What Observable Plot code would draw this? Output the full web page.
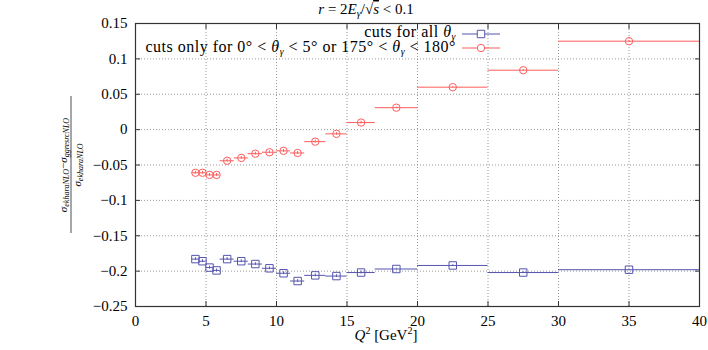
<!DOCTYPE html>
<html>
<head>
<meta charset="utf-8">
<script src="https://cdn.jsdelivr.net/npm/d3@7"></script>
<script src="https://cdn.jsdelivr.net/npm/@observablehq/plot@0.6"></script>
<style>
  html, body { margin: 0; padding: 0; background: #fff; }
  #chart svg { display: block; }
  #chart svg text { font-family: 'Liberation Serif', 'DejaVu Serif', serif; }
</style>
</head>
<body>
<div id="chart"></div>
<script>
// Q^2 bin centres, bin edges [GeV^2]
const q2     = [4.25, 4.75, 5.25, 5.75, 6.5, 7.5, 8.5, 9.5, 10.5, 11.5, 12.75, 14.25, 16, 18.5, 22.5, 27.5, 35];
const binLo  = [4, 4.5, 5, 5.5, 6, 7, 8, 9, 10, 11, 12, 13.5, 15, 17, 20, 25, 30];
const binHi  = [4.5, 5, 5.5, 6, 7, 8, 9, 10, 11, 12, 13.5, 15, 17, 20, 25, 30, 40];
// relative difference, cuts for all theta_gamma
const allCuts = [-0.183, -0.186, -0.195, -0.199, -0.183, -0.186, -0.190, -0.196, -0.203, -0.214, -0.206, -0.207, -0.202, -0.197, -0.192, -0.202, -0.198];
// relative difference, cuts only for forward/backward photons
const partCuts = [-0.061, -0.061, -0.064, -0.064, -0.044, -0.040, -0.034, -0.032, -0.030, -0.033, -0.017, -0.006, 0.010, 0.031, 0.060, 0.084, 0.125];
// (tiny) statistical errors
const allErr  = [0.002, 0.002, 0.002, 0.002, 0.002, 0.002, 0.002, 0.002, 0.002, 0.002, 0.002, 0.002, 0.002, 0.001, 0.001, 0.001, 0.001];
const partErr = [0.002, 0.002, 0.002, 0.002, 0.002, 0.002, 0.002, 0.002, 0.002, 0.002, 0.002, 0.002, 0.002, 0.001, 0.001, 0.001, 0.001];

const xTicks = [0, 5, 10, 15, 20, 25, 30, 35, 40];
const yTicks = [-0.25, -0.2, -0.15, -0.1, -0.05, 0, 0.05, 0.1, 0.15];

const seriesNames = ["cuts for all θγ", "cuts only for 0° < θγ < 5° or 175° < θγ < 180°"];
const blue = "#5555b0";
const red = "#ff5c5c";

const rows = (vals, errs, s) => q2.map((q, i) => ({q, lo: binLo[i], hi: binHi[i], v: vals[i], e: errs[i], s}));
const dAll = rows(allCuts, allErr, seriesNames[0]);
const dPart = rows(partCuts, partErr, seriesNames[1]);

const font = "'Liberation Serif', 'DejaVu Serif', serif";
const fmt = d3.format("~g");
const none = () => "";

const plot = Plot.plot({
  width: 708,
  height: 350,
  marginLeft: 135,
  marginRight: 9,
  marginTop: 23,
  marginBottom: 44,
  style: {fontFamily: font, fontSize: "15px", background: "#fff", color: "#000"},
  x: {domain: [0, 40]},
  y: {domain: [-0.25, 0.15]},
  marks: [
    Plot.gridX(xTicks, {stroke: "#999", strokeOpacity: 1, strokeDasharray: "1,2"}),
    Plot.gridY(yTicks, {stroke: "#999", strokeOpacity: 1, strokeDasharray: "1,2"}),
    Plot.axisX(xTicks, {anchor: "bottom", tickSize: 0, tickPadding: 9, tickFormat: fmt, label: null, fontSize: 15, fontFamily: font}),
    Plot.axisX(xTicks, {anchor: "bottom", tickSize: -5, tickFormat: none, label: null, stroke: "#333"}),
    Plot.axisX(xTicks, {anchor: "top", tickSize: -5, tickFormat: none, label: null, stroke: "#333"}),
    Plot.axisY(yTicks, {anchor: "left", tickSize: 0, tickPadding: 8, tickFormat: fmt, label: null, fontSize: 15, fontFamily: font}),
    Plot.axisY(yTicks, {anchor: "left", tickSize: -5, tickFormat: none, label: null, stroke: "#333"}),
    Plot.axisY(yTicks, {anchor: "right", tickSize: -5, tickFormat: none, label: null, stroke: "#333"}),
    // horizontal bin-width bars
    Plot.ruleY(dAll, {y: "v", x1: "lo", x2: "hi", stroke: blue, strokeWidth: 1}),
    Plot.ruleY(dPart, {y: "v", x1: "lo", x2: "hi", stroke: red, strokeWidth: 1}),
    // vertical error bars
    Plot.ruleX(dAll, {x: "q", y1: d => d.v - d.e, y2: d => d.v + d.e, stroke: blue}),
    Plot.ruleX(dPart, {x: "q", y1: d => d.v - d.e, y2: d => d.v + d.e, stroke: red}),
    Plot.dot(dAll, {x: "q", y: "v", symbol: "square", r: 4.2, stroke: blue, fill: "none", strokeWidth: 1}),
    Plot.dot(dPart, {x: "q", y: "v", symbol: "circle", r: 3.7, stroke: red, fill: "none", strokeWidth: 1}),
    Plot.frame({stroke: "#333", strokeWidth: 1.2})
  ]
});

document.getElementById("chart").appendChild(plot);

const svg = d3.select(plot);
svg.selectAll("text").style("font-family", font);

// Title
const title = svg.append("text")
  .attr("x", 366).attr("y", 14)
  .attr("text-anchor", "middle")
  .style("font-family", font).style("font-size", "15px");
title.append("tspan").attr("font-style", "italic").text("r");
title.append("tspan").text(" = 2");
title.append("tspan").attr("font-style", "italic").text("E");
title.append("tspan").attr("font-style", "italic").attr("font-size", "10px").attr("dy", 3).text("γ");
title.append("tspan").attr("dy", -3).text("/√");
title.append("tspan").attr("font-style", "italic").style("text-decoration", "overline").text("s");
title.append("tspan").text(" < 0.1");

// X label
const xl = svg.append("text")
  .attr("x", 386).attr("y", 340)
  .attr("text-anchor", "middle")
  .style("font-family", font).style("font-size", "15px");
xl.append("tspan").attr("font-style", "italic").text("Q");
xl.append("tspan").attr("font-size", "10px").attr("dy", -6).text("2");
xl.append("tspan").attr("dy", 6).text(" [GeV");
xl.append("tspan").attr("font-size", "10px").attr("dy", -6).text("2");
xl.append("tspan").attr("dy", 6).text("]");

// Y label (fraction)
const yg = svg.append("g").attr("transform", "translate(71,165) rotate(-90)")
  .style("font-family", font);
const num = yg.append("text").attr("x", 0).attr("y", -4).attr("text-anchor", "middle").style("font-size", "11px");
num.append("tspan").attr("font-style", "italic").text("σ");
num.append("tspan").attr("font-style", "italic").attr("font-size", "8px").attr("dy", 2).text("ekharaNLO");
num.append("tspan").attr("dy", -2).text("−");
num.append("tspan").attr("font-style", "italic").text("σ");
num.append("tspan").attr("font-style", "italic").attr("font-size", "8px").attr("dy", 2).text("ggresrcNLO");
yg.append("line").attr("x1", -68).attr("x2", 69).attr("y1", 0).attr("y2", 0).attr("stroke", "#000").attr("stroke-width", 0.7);
const den = yg.append("text").attr("x", 0).attr("y", 10).attr("text-anchor", "middle").style("font-size", "11px");
den.append("tspan").attr("font-style", "italic").text("σ");
den.append("tspan").attr("font-style", "italic").attr("font-size", "8px").attr("dy", 2).text("ekharaNLO");

// Legend
const leg = svg.append("g").style("font-family", font).style("font-size", "16px").style("letter-spacing", "0.5px");
const legRows = [
  {y: 34, base: 37, color: blue, sym: d3.symbolSquare, size: 4.2 * 4.2 * Math.PI,
   parts: [["cuts for all ", null], ["θ", "i"], ["γ", "sub"]]},
  {y: 48, base: 52, color: red, sym: d3.symbolCircle, size: 3.7 * 3.7 * Math.PI,
   parts: [["cuts only for 0° < ", null], ["θ", "i"], ["γ", "sub"], [" < 5° or 175° < ", null], ["θ", "i"], ["γ", "sub"], [" < 180°", null]]}
];
for (const r of legRows) {
  const t = leg.append("text").attr("x", 456).attr("y", r.base).attr("text-anchor", "end");
  let shifted = false;
  for (const [s, k] of r.parts) {
    const ts = t.append("tspan").text(s);
    if (k === "i") ts.attr("font-style", "italic");
    if (k === "sub") { ts.attr("font-style", "italic").attr("font-size", "10px").attr("dy", 3); shifted = true; }
    else if (shifted) { ts.attr("dy", -3); shifted = false; }
  }
  leg.append("line").attr("x1", 462).attr("x2", 500).attr("y1", r.y).attr("y2", r.y).attr("stroke", r.color);
  leg.append("path").attr("d", d3.symbol(r.sym, r.size)()).attr("transform", `translate(481,${r.y})`)
    .attr("fill", "#fff").attr("stroke", r.color);
}
</script>
</body>
</html>
